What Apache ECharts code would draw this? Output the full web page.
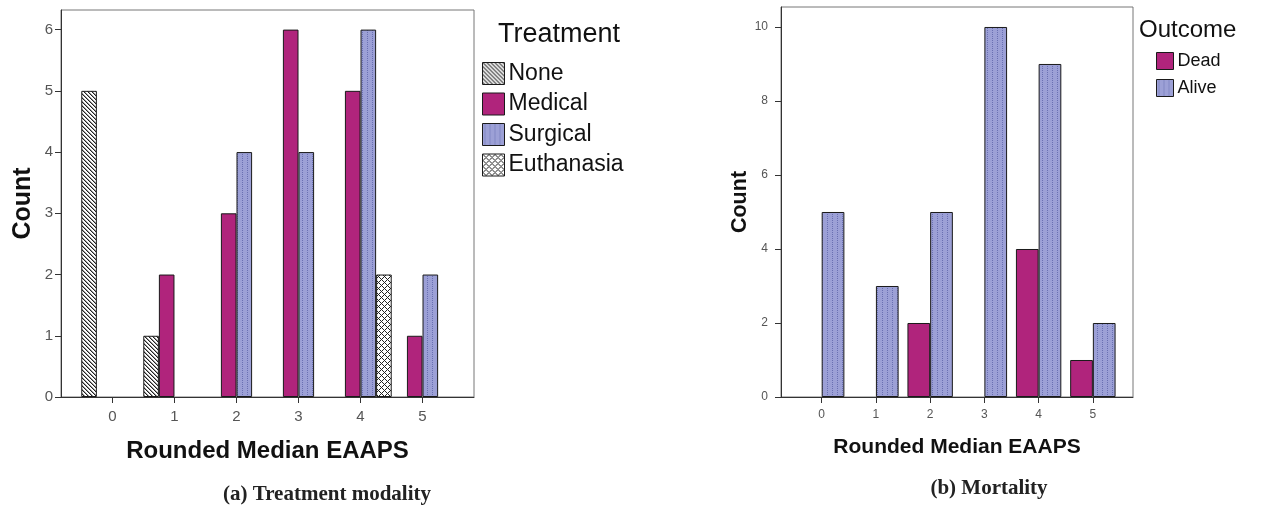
<!DOCTYPE html>
<html><head><meta charset="utf-8">
<script src="https://cdn.jsdelivr.net/npm/echarts@6/dist/echarts.min.js"></script>
<style>html,body{margin:0;padding:0;background:#fff}#c{width:1263px;height:506px}</style>
</head><body><div id="c"></div>
<script>
// ---- data ----
const scores = [0, 1, 2, 3, 4, 5];
const treatmentNames = ['None', 'Medical', 'Surgical', 'Euthanasia'];
const noneCounts = [5, 1, 0, 0, 0, 0];
const medicalCounts = [0, 2, 3, 6, 5, 1];
const surgicalCounts = [0, 0, 4, 4, 6, 2];
const euthanasiaCounts = [0, 0, 0, 0, 2, 0];
const outcomeNames = ['Dead', 'Alive'];
const deadCounts = [0, 0, 2, 0, 4, 1];
const aliveCounts = [5, 3, 5, 10, 9, 2];
const countTicksA = [0, 1, 2, 3, 4, 5, 6];
const countTicksB = [0, 2, 4, 6, 8, 10];

// ---- patterns ----
function pat(w, h, fn) {
  const c = document.createElement('canvas'); c.width = w; c.height = h;
  const g = c.getContext('2d');
  for (let y = 0; y < h; y++) for (let x = 0; x < w; x++) { const col = fn(x, y); if (col) { g.fillStyle = col; g.fillRect(x, y, 1, 1); } }
  return { image: c, repeat: 'repeat' };
}
const patNone = pat(4, 4, (x, y) => { const d = ((x - y) % 4 + 4) % 4; return d === 0 ? '#222' : d === 1 ? '#9a9a9a' : '#fff'; });
const patMedical = '#b0247c';
const patSurgical = pat(5, 2, (x, y) => (x === 2 && y === 0) ? '#6a70b2' : '#9ca0d6');
const patEuth = pat(6, 6, (x, y) => { const a = ((x - y) % 6 + 6) % 6, b = (x + y) % 6; return (a === 0 || b === 0) ? '#222' : '#fff'; });

const font = 'Arial, "Liberation Sans", sans-serif';
const serif = '"Liberation Serif", "DejaVu Serif", serif';

function bar(name, vals, color, xi, w) {
  return {
    type: 'bar', name, xAxisIndex: xi, yAxisIndex: xi, barWidth: w, barGap: '0%',
    // empty cells (count 0) draw no bar
    data: scores.map((s, i) => [s, vals[i] === 0 ? '-' : vals[i]]),
    itemStyle: { color, borderColor: '#1a1a1a', borderWidth: 1 },
    emphasis: { disabled: true }, animation: false
  };
}
function xAx(gi, min, max, fs, nameFs, gap, margin) {
  return {
    type: 'value', gridIndex: gi, min, max,
    name: 'Rounded Median EAAPS', nameLocation: 'middle', nameGap: gap,
    nameTextStyle: { fontFamily: font, fontWeight: 'bold', fontSize: nameFs, color: '#111' },
    axisLine: { show: true, onZero: false, lineStyle: { color: '#333', width: 1 } },
    axisTick: { show: true, length: 6, customValues: scores, lineStyle: { color: '#333' } },
    axisLabel: { customValues: scores, fontFamily: font, fontSize: fs, color: '#555', margin },
    splitLine: { show: false }
  };
}
function yAx(gi, max, ticks, fs, nameFs, gap, margin) {
  return {
    type: 'value', gridIndex: gi, min: 0, max,
    name: 'Count', nameLocation: 'middle', nameGap: gap,
    nameTextStyle: { fontFamily: font, fontWeight: 'bold', fontSize: nameFs, color: '#111' },
    axisLine: { show: true, onZero: false, lineStyle: { color: '#333', width: 1 } },
    axisTick: { show: true, length: 6, customValues: ticks, lineStyle: { color: '#333' } },
    axisLabel: { customValues: ticks, fontFamily: font, fontSize: fs, color: '#555', margin },
    splitLine: { show: false }
  };
}

const chart = echarts.init(document.getElementById('c'), null, { renderer: 'canvas' });
chart.setOption({
  animation: false,
  backgroundColor: '#fff',
  title: [
    { text: 'Treatment', left: 493, top: 16, textStyle: { fontFamily: font, fontWeight: 'normal', fontSize: 27, color: '#111' } },
    { text: 'Outcome', left: 1134, top: 13, textStyle: { fontFamily: font, fontWeight: 'normal', fontSize: 24, color: '#111' } },
    { text: '(a) Treatment modality', left: 322, top: 479, textAlign: 'center', textStyle: { fontFamily: serif, fontWeight: 'bold', fontSize: 21, color: '#222' } },
    { text: '(b) Mortality', left: 984, top: 473, textAlign: 'center', textStyle: { fontFamily: serif, fontWeight: 'bold', fontSize: 21, color: '#222' } }
  ],
  legend: [
    { data: treatmentNames, orient: 'vertical', left: 482, top: 62, padding: 0, icon: 'rect', itemWidth: 22, itemHeight: 22, itemGap: 7.5,
      itemStyle: { borderWidth: 1, borderColor: '#1a1a1a' },
      textStyle: { fontFamily: font, fontSize: 23, color: '#111', padding: [0, 0, 0, -1] }, selectedMode: false },
    { data: outcomeNames, orient: 'vertical', left: 1156, top: 52, padding: 0, icon: 'rect', itemWidth: 17, itemHeight: 17, itemGap: 9,
      itemStyle: { borderWidth: 1, borderColor: '#1a1a1a' },
      textStyle: { fontFamily: font, fontSize: 18, color: '#111', padding: [0, 0, 0, -1] }, selectedMode: false }
  ],
  grid: [
    { left: 61, top: 10, width: 413, height: 387, show: true, borderColor: '#777', borderWidth: 1, backgroundColor: 'transparent' },
    { left: 781, top: 7, width: 352, height: 390, show: true, borderColor: '#777', borderWidth: 1, backgroundColor: 'transparent' }
  ],
  xAxis: [xAx(0, -0.83, 5.83, 15, 24, 42, 12), xAx(1, -0.75, 5.74, 12, 21, 40, 12)],
  yAxis: [yAx(0, 6.32, countTicksA, 15, 25, 25, 8), yAx(1, 10.54, countTicksB, 12, 21.5, 28, 13)],
  series: [
    bar('None', noneCounts, patNone, 0, 15.6),
    bar('Medical', medicalCounts, patMedical, 0, 15.6),
    bar('Surgical', surgicalCounts, patSurgical, 0, 15.6),
    bar('Euthanasia', euthanasiaCounts, patEuth, 0, 15.6),
    bar('Dead', deadCounts, patMedical, 1, 22.7),
    bar('Alive', aliveCounts, patSurgical, 1, 22.7)
  ]
});
</script></body></html>
